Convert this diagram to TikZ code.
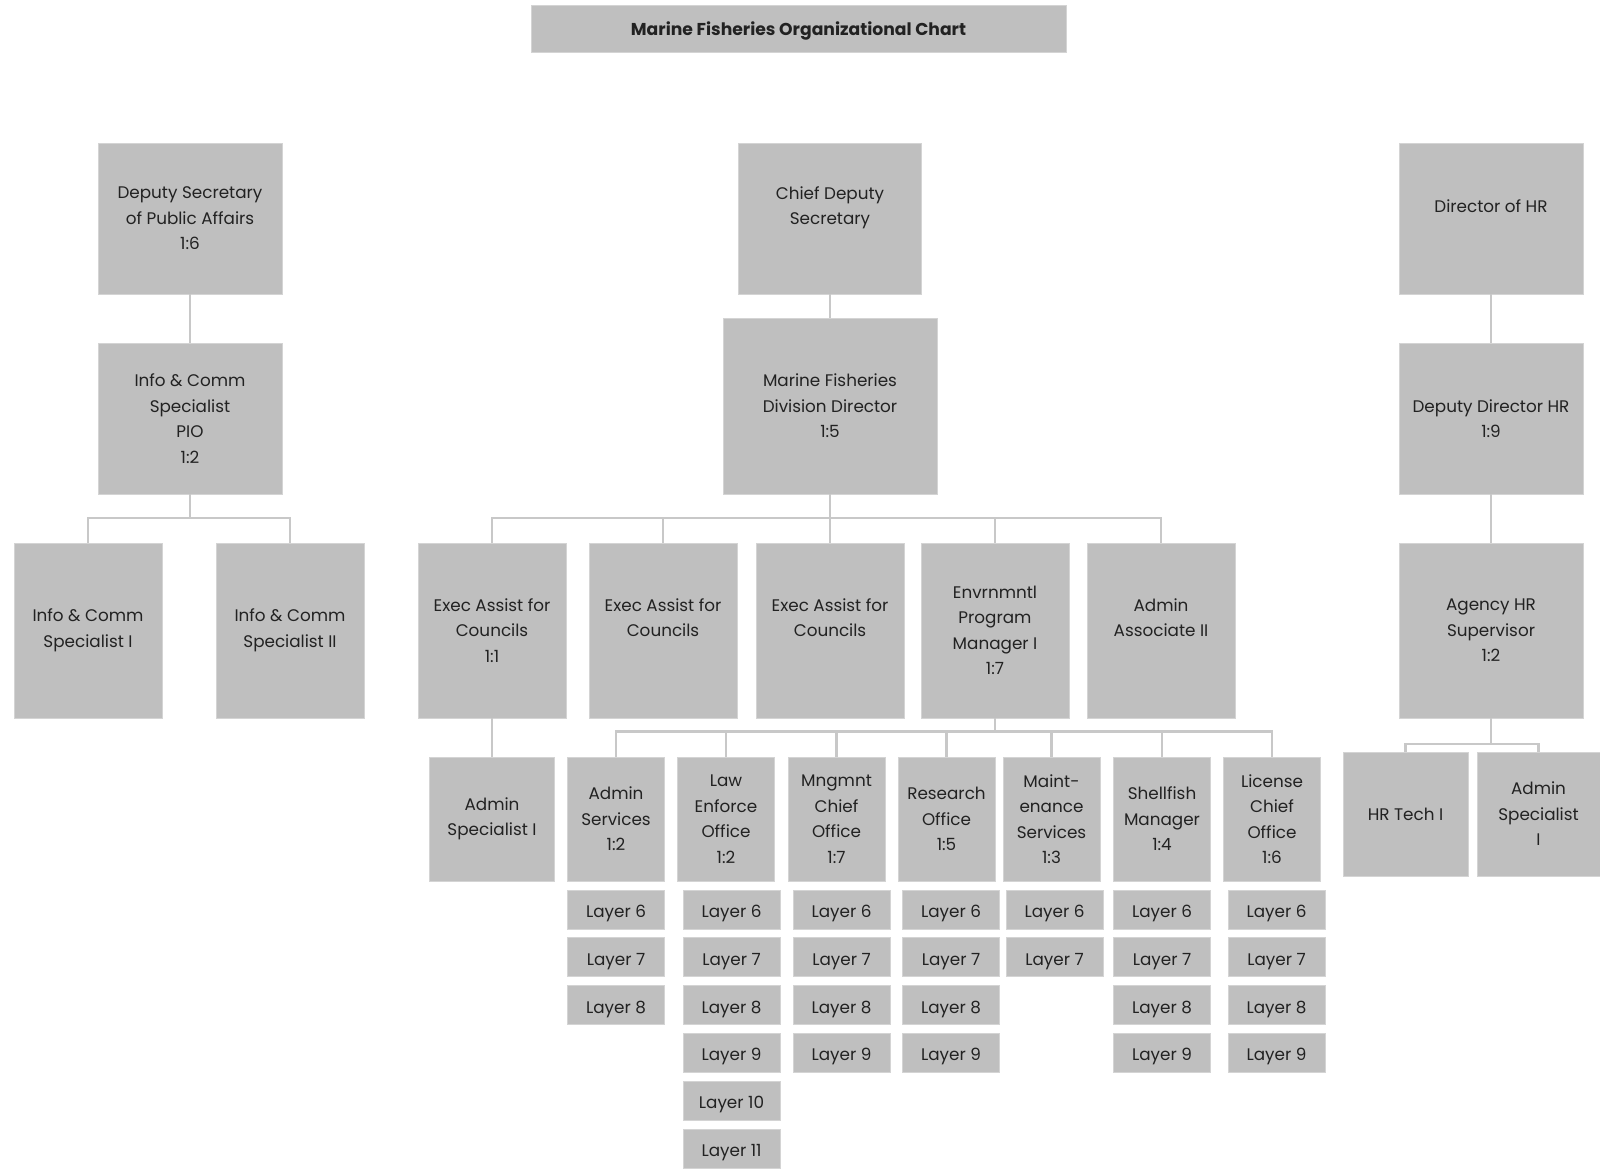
\documentclass[tikz,border=0pt]{standalone}
\usepackage{fontspec}
\setmainfont{Poppins}
\definecolor{boxgray}{HTML}{BFBFBF}
\definecolor{boxedge}{HTML}{D4D4D4}
\definecolor{linkgray}{HTML}{C8C8C8}
\definecolor{inkgray}{HTML}{222222}
\begin{document}
\begin{tikzpicture}[x=0.5pt,y=-0.5pt,
  box/.style={fill=boxgray,draw=boxedge,line width=0.4pt,align=center,inner sep=0pt,
    text=inkgray,font=\fontsize{8.4}{12.75}\selectfont},
  titlebox/.style={box,font=\fontsize{8.6}{11}\selectfont\bfseries,text height=7.5pt,text depth=0pt},
  layerbox/.style={box,minimum width=48.5pt,minimum height=19.5pt,text height=8pt,text depth=0pt},
  link/.style={draw=linkgray,line width=1.1pt}]
\useasboundingbox (0,0) rectangle (1600,1172);
\fill[white] (0,0) rectangle (1600,1172);

% title
\node[titlebox,minimum width=267.5pt,minimum height=23.5pt] (title) at (798.5,28.5) {Marine Fisheries Organizational Chart};

% top row
\node[box,minimum width=92pt,minimum height=75.5pt] (dsec) at (190,218.5) {Deputy Secretary\\of Public Affairs\\1:6};
\node[box,minimum width=91.5pt,minimum height=75.5pt] (cds) at (830,218.5) {Chief Deputy\\Secretary\\\mbox{}};
\node[box,minimum width=92pt,minimum height=75.5pt] (dhr) at (1491,218.5) {Director of HR\\\mbox{}};

% second row
\node[box,minimum width=92pt,minimum height=75.5pt] (pio) at (190,418.5) {Info \& Comm\\Specialist\\PIO\\1:2};
\node[box,minimum width=107pt,minimum height=88pt] (mfdd) at (830,406) {Marine Fisheries\\Division Director\\1:5};
\node[box,minimum width=92pt,minimum height=75.5pt] (ddhr) at (1491,418.5) {Deputy Director HR\\1:9};

% third row
\tikzset{mid/.style={box,minimum width=74pt,minimum height=87.5pt}}
\node[mid] (ics1) at (88,630.5) {Info \& Comm\\Specialist I};
\node[mid] (ics2) at (290,630.5) {Info \& Comm\\Specialist II};
\node[mid] (ea1) at (492,630.5) {Exec Assist for\\Councils\\1:1};
\node[mid] (ea2) at (663,630.5) {Exec Assist for\\Councils\\\mbox{}};
\node[mid] (ea3) at (830,630.5) {Exec Assist for\\Councils\\\mbox{}};
\node[mid] (env) at (995,630.5) {Envrnmntl\\Program\\Manager I\\1:7};
\node[mid] (aa2) at (1161,630.5) {Admin\\Associate II\\\mbox{}};
\node[box,minimum width=92pt,minimum height=87.5pt] (ahr) at (1491,630.5) {Agency HR\\Supervisor\\1:2};

% fourth row
\tikzset{unit/.style={box,minimum width=48.5pt,minimum height=62pt}}
\node[box,minimum width=62.5pt,minimum height=62pt] (as1) at (492,819) {Admin\\Specialist I};
\node[unit] (asvc) at (616,819) {Admin\\Services\\1:2};
\node[unit] (law) at (726,819) {Law\\Enforce\\Office\\1:2};
\node[unit] (mng) at (836.5,819) {Mngmnt\\Chief\\Office\\1:7};
\node[unit] (res) at (946.5,819) {Research\\Office\\1:5};
\node[unit] (mnt) at (1051.5,819) {Maint-\\enance\\Services\\1:3};
\node[unit] (shf) at (1162,819) {Shellfish\\Manager\\1:4};
\node[unit] (lic) at (1272,819) {License\\Chief\\Office\\1:6};
\node[box,minimum width=62.5pt,minimum height=62pt] (hrt) at (1405.5,814) {HR Tech I};
\node[box,minimum width=61.5pt,minimum height=62pt] (hras) at (1538.5,814) {Admin\\Specialist\\I};

% layer stacks under each unit
\foreach \col/\cx/\last in {asvc/616/8, law/731.5/11, mng/841.5/9, res/951/9,
                            mnt/1054.5/7, shf/1162/9, lic/1276.5/9} {
  \foreach \k in {6,...,\last} {
    \node[layerbox] (\col-L\k) at (\cx,{909.5+47.8*(\k-6)}) {Layer \k};
  }
}

% bus levels
\coordinate (busL) at (0,518);
\coordinate (busC) at (0,518);
\coordinate (busE) at (0,731.5);
\coordinate (busH) at (0,744);

% connectors
\draw[link] (dsec.south) -- (pio.north);
\draw[link] (cds.south) -- (mfdd.north);
\draw[link] (dhr.south) -- (ddhr.north);
\draw[link] (ddhr.south) -- (ahr.north);
\draw[link] (ea1.south) -- (as1.north);
\foreach \c in {ics1,ics2}
  \draw[link] (pio.south) -- (pio.south |- busL) -| (\c.north);
\foreach \c in {ea1,ea2,ea3,env,aa2}
  \draw[link] (mfdd.south) -- (mfdd.south |- busC) -| (\c.north);
\foreach \c in {asvc,law,mng,res,mnt,shf,lic}
  \draw[link] (env.south) -- (env.south |- busE) -| (\c.north);
\foreach \c in {hrt,hras}
  \draw[link] (ahr.south) -- (ahr.south |- busH) -| (\c.north);
\end{tikzpicture}
\end{document}
